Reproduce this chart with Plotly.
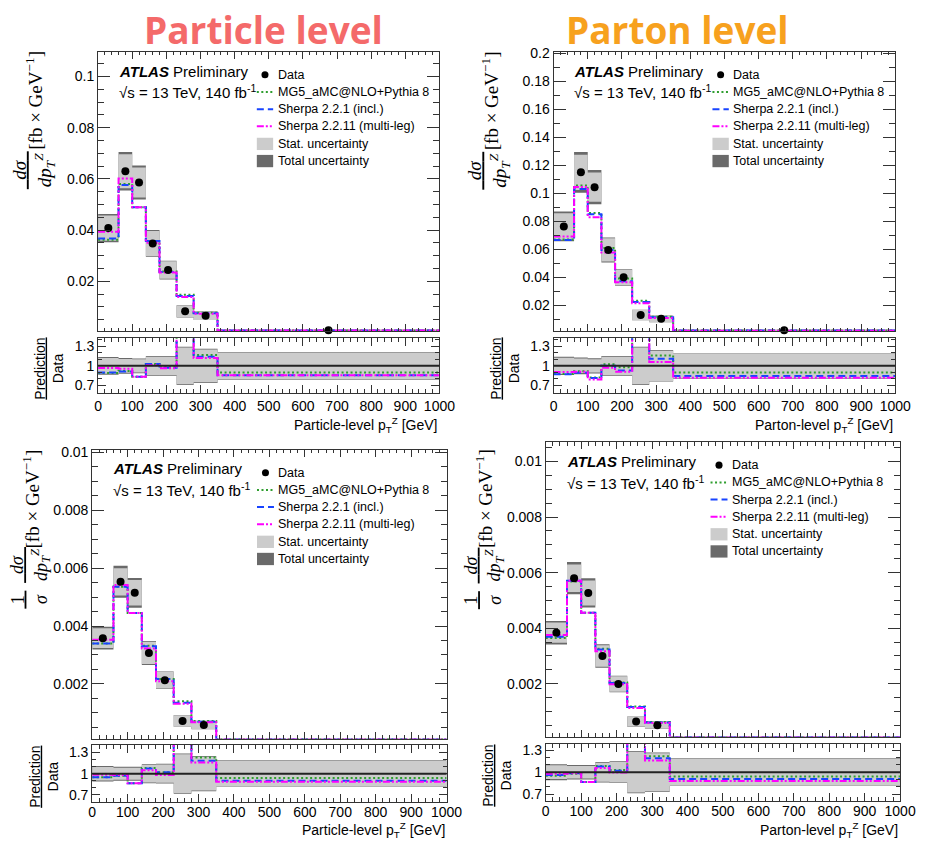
import plotly.graph_objects as go

# Page body has an 8px margin: the figure is sized and offset to fit the 929x848 window.
PAGE_W, PAGE_H, OFF = 929, 848, 8
W, H = PAGE_W - 2 * OFF, PAGE_H - 2 * OFF

# ---------------- data ----------------
bin_edges = [0, 60, 100, 140, 180, 230, 280, 350, 1000]
x_tick_vals = list(range(0, 1001, 100))
ratio_tick_vals = [0.7, 1.0, 1.3]
ratio_tick_text = ["0.7", "1", "1.3"]

series_names = ["MG5_aMC@NLO+Pythia 8", "Sherpa 2.2.1 (incl.)", "Sherpa 2.2.11 (multi-leg)"]

# Particle level, absolute  [fb/GeV]
particle_data = [0.0408, 0.0630, 0.0586, 0.0348, 0.0244, 0.0083, 0.0066, 0.0009]
particle_tot_rel = [0.135, 0.12, 0.113, 0.15, 0.15, 0.29, 0.26, 0.21]
particle_stat_rel = [0.12, 0.105, 0.10, 0.14, 0.14, 0.28, 0.25, 0.205]
particle_mg5 = [0.0363, 0.0580, 0.0489, 0.0358, 0.0239, 0.0148, 0.0077, 0.00081]
particle_sherpa221 = [0.0367, 0.0576, 0.0489, 0.0358, 0.0237, 0.0143, 0.00752, 0.00077]
particle_sherpa2211 = [0.0394, 0.0602, 0.0489, 0.0351, 0.0235, 0.0139, 0.0074, 0.00077]

# Parton level, absolute
parton_data = [0.0762, 0.1149, 0.1043, 0.0594, 0.0398, 0.0129, 0.0101, 0.0020]
parton_tot_rel = [0.14, 0.127, 0.117, 0.15, 0.15, 0.29, 0.24, 0.195]
parton_stat_rel = [0.125, 0.11, 0.10, 0.14, 0.14, 0.28, 0.23, 0.19]
parton_mg5 = [0.0668, 0.1055, 0.0859, 0.0608, 0.0390, 0.0230, 0.0117, 0.0018]
parton_sherpa221 = [0.0665, 0.1030, 0.0850, 0.0594, 0.0370, 0.0222, 0.0112, 0.00169]
parton_sherpa2211 = [0.0690, 0.1045, 0.0828, 0.0576, 0.0362, 0.0212, 0.0107, 0.00164]

# Particle level, normalised
particle_norm_data = [0.00358, 0.00553, 0.00515, 0.00307, 0.00213, 0.00072, 0.00058, 0.00009]
particle_norm_tot_rel = [0.11, 0.10, 0.10, 0.135, 0.14, 0.285, 0.25, 0.19]
particle_norm_stat_rel = [0.095, 0.085, 0.085, 0.125, 0.13, 0.275, 0.24, 0.185]
particle_norm_mg5 = [0.00340, 0.00536, 0.00445, 0.00332, 0.00217, 0.00140, 0.000713, 0.0000846]
particle_norm_sherpa221 = [0.00340, 0.00536, 0.00445, 0.00330, 0.00217, 0.00135, 0.000687, 0.000081]
particle_norm_sherpa2211 = [0.00353, 0.00542, 0.00445, 0.00322, 0.00209, 0.00131, 0.000673, 0.0000797]

# Parton level, normalised
parton_norm_data = [0.00384, 0.00580, 0.00527, 0.00300, 0.00199, 0.00064, 0.00051, 0.00009]
parton_norm_tot_rel = [0.11, 0.10, 0.10, 0.14, 0.15, 0.29, 0.27, 0.19]
parton_norm_stat_rel = [0.095, 0.085, 0.085, 0.13, 0.14, 0.28, 0.26, 0.185]
parton_norm_mg5 = [0.00365, 0.00568, 0.00456, 0.00326, 0.00205, 0.00118, 0.000622, 0.0000846]
parton_norm_sherpa221 = [0.00369, 0.00571, 0.00456, 0.00323, 0.00203, 0.00116, 0.000607, 0.0000815]
parton_norm_sherpa2211 = [0.00376, 0.00571, 0.00456, 0.00317, 0.00198, 0.00113, 0.000592, 0.0000792]

# ---------------- styles ----------------
MC_COLORS = ["#2f9e2f", "#1844ff", "#ff00ff"]
MC_DASH = ["2px,2.5px", "7px,4px", "7px,2px,2px,2px,2px,2px"]
STAT_COL = "#cccccc"
TOT_COL = "#6a6a6a"
AX_COL = "#333333"
SANS = "Liberation Sans"
SERIF = "Liberation Serif"

panels = [
    dict(data=particle_data, tot=particle_tot_rel, stat=particle_stat_rel,
         mc=[particle_mg5, particle_sherpa221, particle_sherpa2211],
         box=(96, 445, 46, 328), rbox=(335, 390), yrange=[0.0005, 0.1097], ydtick=0.02, yminor=0.005,
         rrange=[0.59, 1.42], xtitle="Particle-level", xt_y=422, lab_shift=0, norm=False),
    dict(data=parton_data, tot=parton_tot_rel, stat=parton_stat_rel,
         mc=[parton_mg5, parton_sherpa221, parton_sherpa2211],
         box=(561.7, 911, 46, 328), rbox=(335, 390), yrange=[0.0012, 0.2012], ydtick=0.02, yminor=0.01,
         rrange=[0.59, 1.42], xtitle="Parton-level", xt_y=422, lab_shift=0, norm=False),
    dict(data=particle_norm_data, tot=particle_norm_tot_rel, stat=particle_norm_stat_rel,
         mc=[particle_norm_mg5, particle_norm_sherpa221, particle_norm_sherpa2211],
         box=(90, 452.3, 447.3, 739), rbox=(745, 803), yrange=[0.0001, 0.0101], ydtick=0.002, yminor=0.0005,
         rrange=[0.594, 1.41], xtitle="Particle-level", xt_y=831, lab_shift=-3, norm=True),
    dict(data=parton_norm_data, tot=parton_norm_tot_rel, stat=parton_norm_stat_rel,
         mc=[parton_norm_mg5, parton_norm_sherpa221, parton_norm_sherpa2211],
         box=(553.7, 916, 439.7, 736.7), rbox=(744, 801.7), yrange=[0.0001, 0.0107], ydtick=0.002, yminor=0.0005,
         rrange=[0.604, 1.39], xtitle="Parton-level", xt_y=831, lab_shift=-3, norm=True),
]


def px_x(p):
    return (p - OFF) / W


def px_y(p):
    return 1 - (p - OFF) / H


def boxes(edges, lo, hi):
    xs, ys = [], []
    for i in range(len(lo)):
        a, b = edges[i], edges[i + 1]
        xs += [a, b, b, a, a, None]
        ys += [lo[i], lo[i], hi[i], hi[i], lo[i], None]
    return xs, ys


centers = [(bin_edges[i] + bin_edges[i + 1]) / 2 for i in range(len(bin_edges) - 1)]

fig = go.Figure()
layout = dict(width=W, height=H, margin=dict(l=0, r=0, t=0, b=0),
              paper_bgcolor="white", plot_bgcolor="white", showlegend=False)
shapes, annotations = [], []


def axname(k, letter):
    return f"{letter}axis" if k == 1 else f"{letter}axis{k}"


def ref(k, letter):
    return letter if k == 1 else f"{letter}{k}"


for i, p in enumerate(panels):
    km, kr = 2 * i + 1, 2 * i + 2
    x0, x1, y0, y1 = p["box"]
    ry0, ry1 = p["rbox"]
    d = p["data"]
    # --- main panel ---
    tlo = [v * (1 - e) for v, e in zip(d, p["tot"])]
    thi = [v * (1 + e) for v, e in zip(d, p["tot"])]
    slo = [v * (1 - e) for v, e in zip(d, p["stat"])]
    shi = [v * (1 + e) for v, e in zip(d, p["stat"])]
    for lo, hi, col in [(tlo, thi, TOT_COL), (slo, shi, STAT_COL)]:
        bx, by = boxes(bin_edges, lo, hi)
        fig.add_trace(go.Scatter(x=bx, y=by, mode="lines", fill="toself", fillcolor=col,
                                 line=dict(width=0), hoverinfo="skip",
                                 xaxis=ref(km, "x"), yaxis=ref(km, "y")))
    for j, mc in enumerate(p["mc"]):
        fig.add_trace(go.Scatter(x=bin_edges, y=mc + [mc[-1]], mode="lines", line_shape="hv",
                                 line=dict(color=MC_COLORS[j], width=2, dash=MC_DASH[j]),
                                 name=series_names[j], xaxis=ref(km, "x"), yaxis=ref(km, "y")))
    fig.add_trace(go.Scatter(x=centers, y=d, mode="markers", cliponaxis=False,
                             marker=dict(color="black", size=8), name="Data",
                             xaxis=ref(km, "x"), yaxis=ref(km, "y")))
    # --- ratio panel ---
    for rel, col in [(p["tot"], TOT_COL), (p["stat"], STAT_COL)]:
        bx, by = boxes(bin_edges, [1 - e for e in rel], [1 + e for e in rel])
        fig.add_trace(go.Scatter(x=bx, y=by, mode="lines", fill="toself", fillcolor=col,
                                 line=dict(width=0), hoverinfo="skip",
                                 xaxis=ref(kr, "x"), yaxis=ref(kr, "y")))
    shapes.append(dict(type="line", xref=f"{ref(kr,'x')} domain", yref=ref(kr, "y"),
                       x0=0, x1=1, y0=1, y1=1, line=dict(color="#222222", width=2), layer="above"))
    for j, mc in enumerate(p["mc"]):
        r = [m / v for m, v in zip(mc, d)]
        fig.add_trace(go.Scatter(x=bin_edges, y=r + [r[-1]], mode="lines", line_shape="hv",
                                 line=dict(color=MC_COLORS[j], width=2, dash=MC_DASH[j]),
                                 xaxis=ref(kr, "x"), yaxis=ref(kr, "y")))

    common = dict(showline=True, linecolor=AX_COL, linewidth=1, mirror="allticks", ticks="inside",
                  tickcolor=AX_COL, showgrid=False, zeroline=False,
                  tickfont=dict(family=SANS, size=14, color="black"))
    xdom = [px_x(x0), px_x(x1)]
    layout[axname(km, "x")] = dict(common, domain=xdom, anchor=ref(km, "y"), range=[0, 1000],
                                   tickvals=x_tick_vals, ticklen=7, showticklabels=False,
                                   minor=dict(dtick=20, tick0=0, ticklen=3.5, ticks="inside", tickcolor=AX_COL))
    layout[axname(km, "y")] = dict(common, domain=[px_y(y1), px_y(y0)], anchor=ref(km, "x"),
                                   range=p["yrange"], dtick=p["ydtick"], tick0=0, ticklen=12,
                                   minor=dict(dtick=p["yminor"], tick0=0, ticklen=6, ticks="inside", tickcolor=AX_COL))
    layout[axname(kr, "x")] = dict(common, domain=xdom, anchor=ref(kr, "y"), range=[0, 1000],
                                   tickvals=x_tick_vals, ticklen=8, ticklabelstandoff=p["lab_shift"],
                                   minor=dict(dtick=20, tick0=0, ticklen=4, ticks="inside", tickcolor=AX_COL))
    layout[axname(kr, "y")] = dict(common, domain=[px_y(ry1), px_y(ry0)], anchor=ref(kr, "x"),
                                   range=p["rrange"], tickvals=ratio_tick_vals, ticktext=ratio_tick_text,
                                   ticklen=8,
                                   minor=dict(dtick=0.1, tick0=0, ticklen=4, ticks="inside", tickcolor=AX_COL))

    # --- in-plot texts ---
    xr, yr = f"{ref(km,'x')} domain", f"{ref(km,'y')} domain"
    wpx, hpx = x1 - x0, y1 - y0
    annotations.append(dict(xref=xr, yref=yr, x=0.054, y=1 - 19.5 / hpx, xanchor="left", yanchor="middle",
                            text="<b><i>ATLAS</i></b> Preliminary", showarrow=False,
                            font=dict(family=SANS, size=15, color="black")))
    annotations.append(dict(xref=xr, yref=yr, x=0.054, y=1 - 40.5 / hpx, xanchor="left", yanchor="middle",
                            text="√s = 13 TeV, 140 fb<sup>-1</sup>", showarrow=False,
                            font=dict(family=SANS, size=15, color="black")))
    # legend
    leg_y = [23.3, 40.7, 58.0, 75.3, 93.0, 110.3]
    sx0, sx1, tx = 162.3 / 349, 179 / 349, 181.5 / 349
    labels = ["Data"] + series_names + ["Stat. uncertainty", "Total uncertainty"]
    for n, (lab, ly) in enumerate(zip(labels, leg_y)):
        yy = 1 - ly / hpx
        annotations.append(dict(xref=xr, yref=yr, x=tx, y=yy, xanchor="left", yanchor="middle",
                                text=lab, showarrow=False, font=dict(family=SANS, size=12.5, color="black")))
        if n == 0:
            cx = (sx0 + sx1) / 2
            rr = 3.6
            shapes.append(dict(type="circle", xref=xr, yref=yr, x0=cx - rr / wpx, x1=cx + rr / wpx,
                               y0=yy - rr / hpx, y1=yy + rr / hpx, fillcolor="black",
                               line=dict(width=0), layer="above"))
        elif n <= 3:
            shapes.append(dict(type="line", xref=xr, yref=yr, x0=sx0, x1=sx1, y0=yy, y1=yy,
                               line=dict(color=MC_COLORS[n - 1], width=2, dash=MC_DASH[n - 1]), layer="above"))
        else:
            col = STAT_COL if n == 4 else TOT_COL
            shapes.append(dict(type="rect", xref=xr, yref=yr, x0=sx0, x1=sx1,
                               y0=yy - 6.2 / hpx, y1=yy + 6.2 / hpx, fillcolor=col,
                               line=dict(width=0), layer="above"))
    # x-axis title
    annotations.append(dict(xref="paper", yref="paper", x=px_x(x1), y=px_y(p["xt_y"]),
                            xanchor="right", yanchor="middle", showarrow=False,
                            text=p["xtitle"] + " p<sub>T</sub><sup>Z</sup> [GeV]",
                            font=dict(family=SANS, size=14, color="black")))
    # ratio y title
    rcx = x0 - 50 if i % 2 == 0 else x0 - 49.5
    annotations.append(dict(xref="paper", yref="paper", x=px_x(rcx), y=px_y((ry0 + ry1) / 2 + 3),
                            xanchor="center", yanchor="middle", showarrow=False, textangle=-90,
                            text="<u>Prediction</u><br>Data",
                            font=dict(family=SANS, size=14, color="black")))
    # main y title
    ycx = x0 - 66 if not p["norm"] else x0 - 63
    frac_dp = "<u>\u00a0\u00a0<i>dσ</i>\u00a0\u00a0</u><br><i>dp</i><sub><i>T</i></sub><sup><i>Z</i></sup>"
    if not p["norm"]:
        annotations.append(dict(xref="paper", yref="paper", x=px_x(ycx), y=px_y(166),
                                xanchor="center", yanchor="middle", showarrow=False, textangle=-90,
                                text=frac_dp, font=dict(family=SERIF, size=19, color="black")))
        annotations.append(dict(xref="paper", yref="paper", x=px_x(ycx + 1), y=px_y(95),
                                xanchor="center", yanchor="middle", showarrow=False, textangle=-90,
                                text="[fb × GeV<sup>−1</sup>]", font=dict(family=SERIF, size=19, color="black")))
    else:
        annotations.append(dict(xref="paper", yref="paper", x=px_x(ycx - 2), y=px_y(599),
                                xanchor="center", yanchor="middle", showarrow=False, textangle=-90,
                                text="<u>\u00a01\u00a0</u><br><i>σ</i>", font=dict(family=SERIF, size=18, color="black")))
        annotations.append(dict(xref="paper", yref="paper", x=px_x(ycx), y=px_y(564),
                                xanchor="center", yanchor="middle", showarrow=False, textangle=-90,
                                text=frac_dp, font=dict(family=SERIF, size=18, color="black")))
        annotations.append(dict(xref="paper", yref="paper", x=px_x(ycx), y=px_y(497),
                                xanchor="center", yanchor="middle", showarrow=False, textangle=-90,
                                text="[fb × GeV<sup>−1</sup>]", font=dict(family=SERIF, size=19, color="black")))

# Column titles
annotations.append(dict(xref="paper", yref="paper", x=px_x(265), y=px_y(24), xanchor="center", yanchor="middle",
                        text="<b>Particle level</b>", showarrow=False,
                        font=dict(family="Open Sans", size=37, color="#F46A6A")))
annotations.append(dict(xref="paper", yref="paper", x=px_x(688), y=px_y(24), xanchor="center", yanchor="middle",
                        text="<b>Parton level</b>", showarrow=False,
                        font=dict(family="Open Sans", size=37, color="#F7A11E")))

layout["shapes"] = shapes
layout["annotations"] = annotations
fig.update_layout(**layout)
fig.write_html("out.html")
